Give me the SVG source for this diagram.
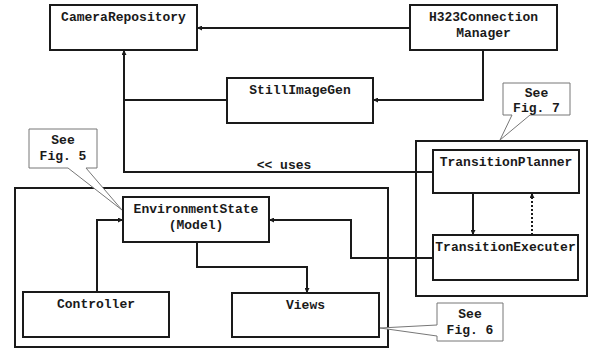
<svg xmlns="http://www.w3.org/2000/svg" width="589" height="349" viewBox="0 0 589 349">
<style>
.box{fill:#fff;stroke:#1a1a1a;stroke-width:2}
.frame{fill:none;stroke:#1a1a1a;stroke-width:2}
text{font-family:'Liberation Mono','Courier New',Courier,monospace;font-weight:bold;font-size:13px;fill:#1a1a1a;text-anchor:middle}
.c{fill:none;stroke:#1a1a1a;stroke-width:2}
.d{fill:none;stroke:#1a1a1a;stroke-width:2;stroke-dasharray:2 2}
.call{fill:#fff;stroke:#777;stroke-width:1}
</style>
<defs>
<marker id="ah" viewBox="0 0 10 10" refX="10" refY="5" markerWidth="5" markerHeight="5" orient="auto" markerUnits="userSpaceOnUse">
<path d="M0,0 L10,5 L0,10 z" fill="#1a1a1a"/>
</marker>
</defs>
<rect width="589" height="349" fill="#fff"/>
<g id="frames">
<rect class="frame" x="15" y="188" width="373" height="159"/>
<rect class="frame" x="416" y="141" width="171" height="155"/>
</g>
<g id="connectors">
<path class="c" d="M410,28 H197" marker-end="url(#ah)"/>
<path class="c" d="M483,50 V100 H373" marker-end="url(#ah)"/>
<path class="c" d="M227,100 H124"/>
<path class="c" d="M433,172 H124 V50" marker-end="url(#ah)"/>
<path class="c" d="M473,193 V235" marker-end="url(#ah)"/>
<path class="d" d="M532,235 V193" marker-end="url(#ah)"/>
<path class="c" d="M433,258 H351 V220 H269" marker-end="url(#ah)"/>
<path class="c" d="M97,292 V220 H123" marker-end="url(#ah)"/>
<path class="c" d="M197,242 V267 H307 V293" marker-end="url(#ah)"/>
<text x="284" y="169" font-family="Liberation Mono">&lt;&lt; uses</text>
</g>
<g id="CameraRepository">
<rect class="box" x="50" y="5" width="147" height="45"/>
<text x="123.5" y="21" font-family="Liberation Mono">CameraRepository</text>
</g>
<g id="H323ConnectionManager">
<rect class="box" x="410" y="5" width="147" height="45"/>
<text x="483.5" y="21">H323Connection</text>
<text x="483.5" y="37">Manager</text>
</g>
<g id="StillImageGen">
<rect class="box" x="227" y="78" width="146" height="45"/>
<text x="300" y="94">StillImageGen</text>
</g>
<g id="TransitionPlanner">
<rect class="box" x="433" y="150" width="146" height="43"/>
<text x="506" y="166">TransitionPlanner</text>
</g>
<g id="TransitionExecuter">
<rect class="box" x="433" y="235" width="145" height="45"/>
<text x="505.5" y="251">TransitionExecuter</text>
</g>
<g id="EnvironmentState">
<rect class="box" x="123" y="197" width="146" height="45"/>
<text x="196" y="213">EnvironmentState</text>
<text x="196" y="229">(Model)</text>
</g>
<g id="Controller">
<rect class="box" x="23" y="292" width="146" height="45"/>
<text x="96" y="308">Controller</text>
</g>
<g id="Views">
<rect class="box" x="232" y="293" width="147" height="44"/>
<text x="305.5" y="309">Views</text>
</g>
<g id="callout-fig7">
<path class="call" d="M503,83 H570 V115 H530 L500,140 L512,115 H503 Z"/>
<text x="536.5" y="97">See</text>
<text x="536.5" y="112">Fig. 7</text>
</g>
<g id="callout-fig5">
<path class="call" d="M29,129 H97 V168 H86 L122,210 L68,168 H29 Z"/>
<text x="63" y="144">See</text>
<text x="63" y="160">Fig. 5</text>
</g>
<g id="callout-fig6">
<path class="call" d="M437,303 H503 V341 H437 V336 L380,328 L437,325 Z"/>
<text x="470" y="318">See</text>
<text x="470" y="334">Fig. 6</text>
</g>
</svg>
